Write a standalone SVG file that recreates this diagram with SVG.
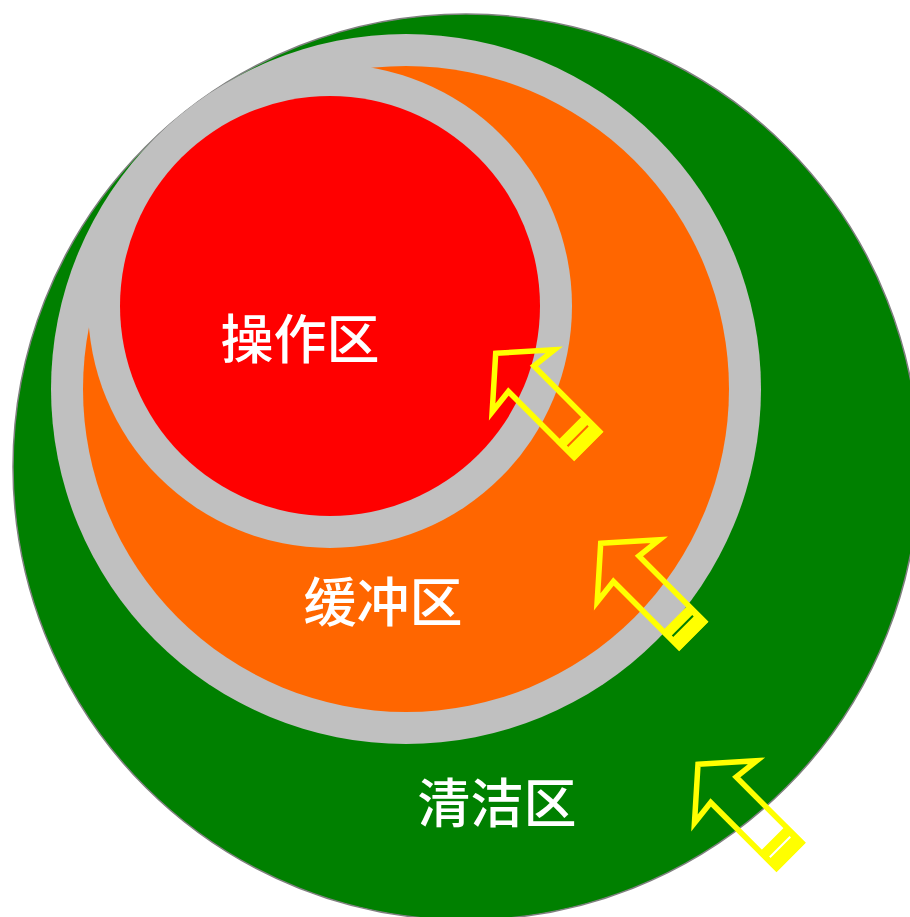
<svg xmlns="http://www.w3.org/2000/svg" width="910" height="917" viewBox="0 0 910 917">
  <style>
    .label { font-family: "Noto Sans CJK SC", "Noto Sans", sans-serif; font-size: 53px; font-weight: 500; fill: #FFFFFF; text-anchor: middle; }
    .ring { fill: #C0C0C0; }
    .arrow-body { fill: none; stroke: #FFFF00; stroke-width: 5.5; stroke-linejoin: miter; stroke-miterlimit: 10; }
    .arrow-band { fill: #FFFF00; fill-rule: evenodd; }
  </style>
  <defs>
    <g id="zone-arrow">
      <path class="arrow-band" d="M -20.5 105.5 H 20.5 V 131.5 H -20.5 Z M -15 115.5 H 14 V 117.5 H -15 Z"/>
      <polygon class="arrow-body" points="0,0 44,39 18,36 18,129 -18,129 -18,36 -44,39"/>
    </g>
  </defs>

  <g id="clean-zone">
    <circle cx="466" cy="467" r="453" fill="#008000" stroke="#808080" stroke-width="1.5"/>
    <text class="label" x="497" y="823">清洁区</text>
  </g>

  <g id="buffer-zone">
    <circle class="ring" cx="406" cy="389" r="355"/>
    <circle cx="406" cy="389" r="323" fill="#FF6600"/>
    <text class="label" x="383" y="622">缓冲区</text>
  </g>

  <g id="operation-zone">
    <circle class="ring" cx="330" cy="306" r="242"/>
    <circle cx="330" cy="306" r="210" fill="#FF0000"/>
    <text class="label" x="300" y="359">操作区</text>
  </g>

  <g id="connectors">
    <use href="#zone-arrow" transform="translate(495.7,353.3) rotate(-45)"/>
    <use href="#zone-arrow" transform="translate(600.7,543.3) rotate(-45)"/>
    <use href="#zone-arrow" transform="translate(698,764.3) rotate(-45)"/>
  </g>
</svg>
